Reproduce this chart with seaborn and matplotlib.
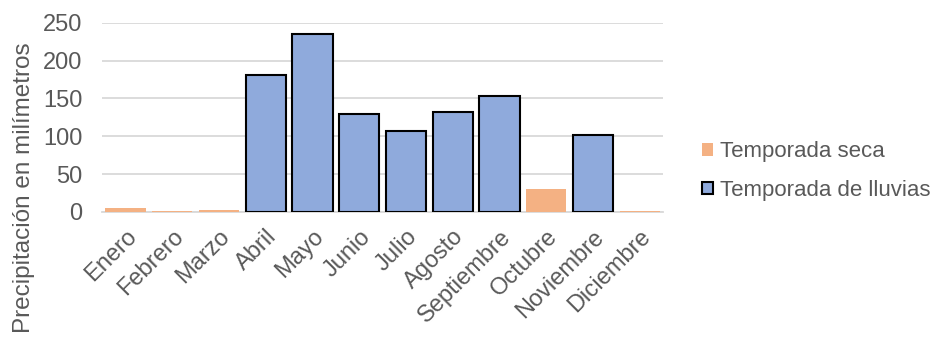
import matplotlib
matplotlib.use("Agg")
import matplotlib.pyplot as plt
import seaborn as sns
import pandas as pd
from matplotlib.patches import Patch

meses = ["Enero", "Febrero", "Marzo", "Abril", "Mayo", "Junio", "Julio",
         "Agosto", "Septiembre", "Octubre", "Noviembre", "Diciembre"]
precipitacion = [5, 1, 3, 181, 235, 130, 107, 132, 153, 30, 102, 1]
temporada = ["Temporada seca", "Temporada seca", "Temporada seca",
             "Temporada de lluvias", "Temporada de lluvias", "Temporada de lluvias",
             "Temporada de lluvias", "Temporada de lluvias", "Temporada de lluvias",
             "Temporada seca", "Temporada de lluvias", "Temporada seca"]
orden = ["Temporada seca", "Temporada de lluvias"]
colores = {"Temporada seca": "#F4B183", "Temporada de lluvias": "#8FAADC"}

df = pd.DataFrame({"mes": meses, "mm": precipitacion, "temporada": temporada})

sns.set_style("white")
plt.rcParams["font.family"] = ["Liberation Sans", "DejaVu Sans"]
gris = "#595959"

fig = plt.figure(figsize=(9.43, 3.38), dpi=100)
ax = fig.add_axes([0.1082, 0.3728, 0.5949, 0.560])

sns.barplot(data=df, x="mes", y="mm", hue="temporada", palette=colores,
            hue_order=orden, dodge=False, width=0.86, saturation=1,
            legend=False, ax=ax, zorder=3)

# borde negro solo para la temporada de lluvias
for container, t in zip(ax.containers, orden):
    for bar in container:
        if t == "Temporada de lluvias":
            bar.set_edgecolor("black")
            bar.set_linewidth(1.5)
        else:
            bar.set_edgecolor("none")

ax.set_ylim(0, 250)
ax.set_yticks(range(0, 251, 50))
ax.yaxis.grid(True, color="#D9D9D9", linewidth=1.3, zorder=0)
ax.set_axisbelow(True)
for s in ["top", "right", "left"]:
    ax.spines[s].set_visible(False)
ax.spines["bottom"].set_color("#D9D9D9")
ax.spines["bottom"].set_linewidth(1.3)
ax.set_xlim(-0.5, 11.5)

ax.tick_params(axis="y", length=0, labelsize=17, colors=gris, pad=14)
ax.tick_params(axis="x", length=0, labelsize=17, colors=gris, pad=10)
plt.setp(ax.get_xticklabels(), rotation=45, ha="right", rotation_mode="anchor")
ax.set_xlabel("")
ax.set_ylabel("")
fig.text(24 / 943, 1 - 188 / 338, "Precipitación en milímetros", rotation=90,
         ha="center", va="center", fontsize=17.5, color=gris)

handles = [Patch(facecolor=colores["Temporada seca"], edgecolor="none"),
           Patch(facecolor=colores["Temporada de lluvias"], edgecolor="black", linewidth=1.5)]
fig.legend(handles, orden, loc="center left", bbox_to_anchor=(0.744, 0.494),
           frameon=False, fontsize=16, labelcolor=gris, handlelength=0.5,
           handleheight=0.5, handletextpad=0.35, labelspacing=0.8,
           borderpad=0, borderaxespad=0)

fig.savefig("out.png", dpi=100)
